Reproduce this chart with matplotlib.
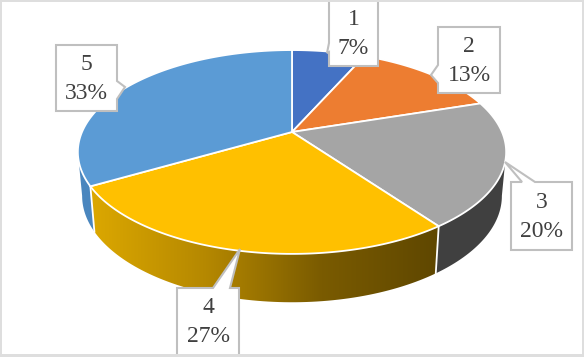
import numpy as np
import matplotlib
matplotlib.use("Agg")
import matplotlib.pyplot as plt
from matplotlib.colors import LinearSegmentedColormap
from matplotlib.patches import Polygon

categories = [1, 2, 3, 4, 5]
values = [1, 2, 3, 4, 5]
percents = [7, 13, 20, 27, 33]
colors = ["#4472C4", "#ED7D31", "#A5A5A5", "#FFC000", "#5B9BD5"]

# perspective of the disc, in pixels
cx, cy = 292, 133
k = 0.196
A = 210
B = 98
side_dy = 176
side_sx = 0.98
side_sy = 1.044


def rim(a):
    u = np.sin(a)
    v = np.cos(a)
    d = 1 + k * v
    return cx + A * u / d, cy - B * v / d


def rim_low(a):
    x, y = rim(a)
    return cx + side_sx * (x - cx), side_dy + side_sy * (y - cy)


def wall(a0, a1):
    a = np.linspace(a0, a1, 80)
    x, y = rim(a)
    x2, y2 = rim_low(a)
    return np.column_stack([np.r_[x, x2[::-1]], np.r_[y, y2[::-1]]])


fig = plt.figure(figsize=(5.84, 3.57), dpi=100, facecolor="#dedede")
ax = fig.add_axes([2 / 584, 3 / 357, 579.5 / 584, 352 / 357])
ax.set_xticks([])
ax.set_yticks([])
for s in ax.spines.values():
    s.set_visible(False)

total = sum(values)
edges = np.r_[0, np.cumsum(values)] / total * 2 * np.pi
right = np.pi / 2 + np.arcsin(k)
left = 2 * np.pi - right

# side walls
ax.add_patch(Polygon(wall(right, edges[3]), fc="#404040", ec="none", zorder=2))
ax.add_patch(Polygon(wall(edges[4], left), fc="#4A86BE", ec="none", zorder=2))
gold = LinearSegmentedColormap.from_list("gold", ["#5F4700", "#7A5B00", "#B58800", "#DCA800"])
front = Polygon(wall(edges[3], edges[4]), fc="none", ec="none", zorder=3)
ax.add_patch(front)
im = ax.imshow(np.linspace(0, 1, 256)[None, :][:, ::-1], cmap=gold, aspect="auto",
               extent=[90, 438, 355, 3], zorder=2)
im.set_clip_path(front)
ax.set_xlim(2, 581.5)
ax.set_ylim(355, 3)

# white seams between the walls
for e in [edges[3], edges[4]]:
    x0, y0 = rim(e)
    x1, y1 = rim_low(e)
    ax.plot([x0, x1], [y0, y1], color="white", lw=1.3, zorder=3)

# top of the disc
for i in range(len(values)):
    a = np.linspace(edges[i], edges[i + 1], 120)
    x, y = rim(a)
    pts = np.column_stack([np.r_[cx, x], np.r_[cy, y]])
    ax.add_patch(Polygon(pts, fc=colors[i], ec="white", lw=1.3, zorder=4))

# data labels with their callouts: left, right, top, bottom, pointer
boxes = [
    (329, 378, -10, 67, [(329, 44), (327, 54), (329, 53)]),
    (438, 500, 28, 94, [(438, 66), (431, 76), (438, 84)]),
    (511, 572, 183, 251, [(522, 183), (505, 163), (535, 183)]),
    (177, 239, 289, 370, [(213, 289), (240, 250), (230, 289)]),
    (56, 117, 46, 112, [(117, 82), (125, 88), (117, 100)]),
]
text_y = [35, 62, 218, 323, 80]

for i, (l, r, t, b, tip) in enumerate(boxes):
    if tip[0][0] == l:
        pts = [(l, t), (r, t), (r, b), (l, b)] + tip[::-1]
    elif tip[0][0] == r:
        pts = [(l, t), (r, t)] + tip + [(r, b), (l, b)]
    else:
        pts = [(l, t)] + tip + [(r, t), (r, b), (l, b)]
    ax.add_patch(Polygon(pts, fc="white", ec="#BFBFBF", lw=1.5, zorder=5))
    ax.text((l + r) / 2, text_y[i], "%d\n%d%%" % (categories[i], percents[i]),
            family="Liberation Serif", fontsize=17, color="#404040",
            ha="center", va="center", ma="center", linespacing=1.53, zorder=6)

fig.savefig("out.png", dpi=100, facecolor=fig.get_facecolor())
